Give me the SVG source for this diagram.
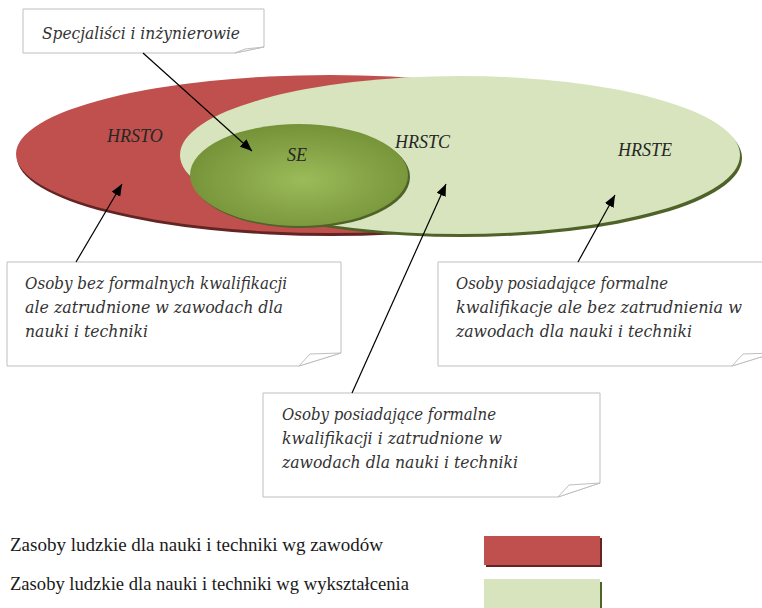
<svg xmlns="http://www.w3.org/2000/svg" width="762" height="608" viewBox="0 0 762 608">
<style>
.lbl{font-family:"Liberation Serif","Times New Roman",serif;font-style:italic;font-size:18px;fill:#262626}
.call{font-family:"DejaVu Serif","Liberation Serif",serif;font-style:italic;font-size:16px;fill:#333333}
.leg{font-family:"Liberation Serif","Times New Roman",serif;font-size:18px;fill:#1a1a1a}
.box{fill:#ffffff;stroke:#bfbfbf;stroke-width:1}
.conn{stroke:#000;stroke-width:1.2;fill:none}
</style>
<defs>
<radialGradient id="seg" cx="0.52" cy="0.55" r="0.55">
<stop offset="0" stop-color="#9bbb59"/>
<stop offset="1" stop-color="#759238"/>
</radialGradient>
<marker id="ah" viewBox="0 0 12 10" refX="12" refY="5" markerWidth="12" markerHeight="10" orient="auto" markerUnits="userSpaceOnUse">
<path d="M0,0 L12,5 L0,10 Z" fill="#000"/>
</marker>
</defs>

<g id="HRSTO">
<ellipse cx="331" cy="157" rx="314" ry="79" fill="#632523"/>
<ellipse cx="330" cy="154" rx="314" ry="79" fill="#c0504d"/>
<text class="lbl" x="107" y="142">HRSTO</text>
</g>
<g id="HRSTE">
<ellipse cx="462" cy="158" rx="280" ry="79" fill="#4f6228"/>
<ellipse cx="460" cy="155" rx="280" ry="79" fill="#d7e4bd"/>
<text class="lbl" x="618" y="156">HRSTE</text>
</g>
<g id="HRSTC">
<text class="lbl" x="395" y="148">HRSTC</text>
</g>
<g id="SE">
<ellipse cx="301" cy="177" rx="109" ry="51" fill="#4f6228"/>
<ellipse cx="299" cy="175" rx="109" ry="51" fill="url(#seg)"/>
<text class="lbl" x="287" y="161">SE</text>
</g>

<g id="callout-specjalisci">
<path class="box" d="M23,9 H264 V47 L235,53 H23 Z"/>
<path class="box" d="M264,47 L245,49 L235,53 Z"/>
<text class="call" x="42" y="39" font-size="17" textLength="198" lengthAdjust="spacingAndGlyphs">Specjaliści i inżynierowie</text>
</g>
<g id="callout-bez-kwalifikacji">
<path class="box" d="M7,262 H341 V353 L299,366 H7 Z"/>
<path class="box" d="M341,353 L310,354 L299,366 Z"/>
<text class="call" x="25" y="289" textLength="262" lengthAdjust="spacingAndGlyphs">Osoby bez formalnych kwalifikacji</text>
<text class="call" x="25" y="313" textLength="258" lengthAdjust="spacingAndGlyphs">ale zatrudnione w zawodach dla</text>
<text class="call" x="25" y="337" textLength="123" lengthAdjust="spacingAndGlyphs">nauki i techniki</text>
</g>
<g id="callout-bez-zatrudnienia">
<path class="box" d="M438,262 H774 V353 L732,366 H438 Z"/>
<path class="box" d="M774,353 L743,354 L732,366 Z"/>
<text class="call" x="456" y="289" textLength="212" lengthAdjust="spacingAndGlyphs">Osoby posiadające formalne</text>
<text class="call" x="456" y="313" textLength="286" lengthAdjust="spacingAndGlyphs">kwalifikacje ale bez zatrudnienia w</text>
<text class="call" x="456" y="337" textLength="236" lengthAdjust="spacingAndGlyphs">zawodach dla nauki i techniki</text>
</g>
<g id="callout-zatrudnione">
<path class="box" d="M263,393 H600 V483 L558,497 H263 Z"/>
<path class="box" d="M600,483 L569,485 L558,497 Z"/>
<text class="call" x="282" y="420" textLength="214" lengthAdjust="spacingAndGlyphs">Osoby posiadające formalne</text>
<text class="call" x="282" y="444" textLength="220" lengthAdjust="spacingAndGlyphs">kwalifikacji i zatrudnione w</text>
<text class="call" x="282" y="468" textLength="236" lengthAdjust="spacingAndGlyphs">zawodach dla nauki i techniki</text>
</g>

<g id="connectors">
<line class="conn" x1="143" y1="53" x2="252" y2="151" marker-end="url(#ah)"/>
<line class="conn" x1="76" y1="262" x2="122" y2="184" marker-end="url(#ah)"/>
<line class="conn" x1="352" y1="393" x2="446" y2="184" marker-end="url(#ah)"/>
<line class="conn" x1="578" y1="262" x2="615" y2="195" marker-end="url(#ah)"/>
</g>

<g id="legend">
<text class="leg" x="10" y="551" textLength="373" lengthAdjust="spacingAndGlyphs">Zasoby ludzkie dla nauki i techniki wg zawodów</text>
<rect x="486" y="538" width="116" height="29" fill="#632523"/>
<rect x="484" y="536" width="116" height="29" fill="#c0504d"/>
<text class="leg" x="10" y="590" textLength="399" lengthAdjust="spacingAndGlyphs">Zasoby ludzkie dla nauki i techniki wg wykształcenia</text>
<rect x="486" y="582" width="116" height="30" fill="#4f6228"/>
<rect x="484" y="579" width="116" height="31" fill="#d7e4bd"/>
</g>
</svg>
